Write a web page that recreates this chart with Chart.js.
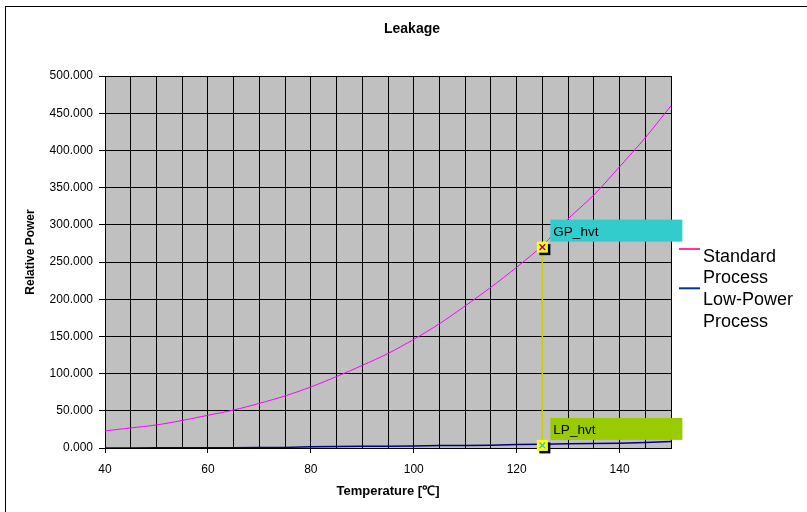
<!DOCTYPE html>
<html lang="en">
<head>
    <meta charset="UTF-8">
    <title>Leakage</title>
    <script src="https://cdn.jsdelivr.net/npm/chart.js@4.4.1/dist/chart.umd.min.js"></script>
    <style>
        body {
            margin: 0;
            padding: 0;
            background: #fff;
            overflow: hidden;
        }

        .frame {
            position: absolute;
            left: 5px;
            top: 6px;
            width: 840px;
            height: 540px;
            border: 1px solid #000;
        }

        .wrap {
            position: absolute;
            left: 0;
            top: 0;
            width: 807px;
            height: 512px;
        }
    </style>
</head>
<body>
    <div class="frame"></div>
    <div class="wrap">
        <canvas id="leakChart" width="807" height="512"></canvas>
    </div>

    <script>
        // temperatures in degrees C
        const temps = [40, 45, 50, 55, 60, 65, 70, 75, 80, 85, 90, 95, 100, 105, 110, 115, 120, 125, 130, 135, 140, 145, 150];
        // relative leakage power
        const standardProcess = [23, 27, 31, 37, 44, 51, 60, 70, 82, 96, 111, 127, 146, 167, 191, 216, 243, 272, 308, 340, 378, 417, 460];
        const lowPowerProcess = [0.1, 0.15, 0.2, 0.3, 0.35, 0.45, 0.6, 0.8, 1.8, 2.0, 2.2, 2.4, 2.6, 3.3, 3.5, 3.8, 4.8, 5.0, 5.8, 6.2, 6.5, 7.5, 8.6];
        const seriesNames = ['Standard Process', 'Low-Power Process'];

        // marked points at 125 C
        const markerTemp = 125;
        const markerValues = [270, 3.5];
        const markerNames = ['GP_hvt', 'LP_hvt'];

        const yTickStep = 50;
        const xTickStep = 5;
        const xLabelStep = 20;

        const lineColors = ['#ff00ff', '#000080'];
        const legendColors = ['#ff3399', '#003399'];
        const boxColors = ['#33cccc', '#99cc00'];
        const crossColors = ['#990099', '#33cccc'];

        const FONT = "'Liberation Sans', Arial, sans-serif";
        Chart.defaults.font.family = FONT;
        Chart.defaults.color = '#000';

        const plotBackground = {
            id: 'plotBackground',
            beforeDraw(chart) {
                const { ctx, chartArea } = chart;
                ctx.save();
                ctx.fillStyle = '#c0c0c0';
                ctx.fillRect(chartArea.left, chartArea.top, chartArea.right - chartArea.left, chartArea.bottom - chartArea.top);
                ctx.restore();
            }
        };

        // black drop shadow under the yellow marker squares
        const markerShadow = {
            id: 'markerShadow',
            beforeDatasetDraw(chart, args) {
                if (chart.data.datasets[args.index].shadow) {
                    const ctx = chart.ctx;
                    ctx.save();
                    ctx.shadowColor = '#000';
                    ctx.shadowOffsetX = 2.5;
                    ctx.shadowOffsetY = 2.5;
                    ctx.shadowBlur = 0;
                }
            },
            afterDatasetDraw(chart, args) {
                if (chart.data.datasets[args.index].shadow) {
                    chart.ctx.restore();
                }
            }
        };

        // titles, data labels and the legend
        const decorations = {
            id: 'decorations',
            afterDraw(chart) {
                const { ctx, chartArea } = chart;
                const xs = chart.scales.x;
                const ys = chart.scales.y;
                ctx.save();
                ctx.fillStyle = '#000';

                ctx.font = 'bold 14px ' + FONT;
                ctx.textAlign = 'center';
                ctx.textBaseline = 'alphabetic';
                ctx.fillText('Leakage', 412, 33);

                ctx.font = 'bold 13px ' + FONT;
                ctx.fillText('Temperature [\u2103]', (chartArea.left + chartArea.right) / 2, 495);

                ctx.save();
                ctx.translate(33.5, 252);
                ctx.rotate(-Math.PI / 2);
                ctx.font = 'bold 12px ' + FONT;
                ctx.fillText('Relative Power', 0, 0);
                ctx.restore();

                // label boxes next to the markers
                markerValues.forEach((v, i) => {
                    const px = xs.getPixelForValue(markerTemp);
                    const py = ys.getPixelForValue(v);
                    const bx = px + 8;
                    const by = py - 27.5;
                    ctx.fillStyle = boxColors[i];
                    ctx.fillRect(bx, by, 132, 22);
                    ctx.fillStyle = '#000';
                    ctx.font = '13.5px ' + FONT;
                    ctx.textAlign = 'left';
                    ctx.fillText(markerNames[i], bx + 3, by + 16.5);
                });

                // legend, wrapped word by word, lines flow on one pitch
                ctx.font = '18px ' + FONT;
                ctx.textAlign = 'left';
                const firstBaseline = 261.7;
                const pitch = 21.7;
                const symbolLift = [12.7, 16.8];
                let row = 0;
                seriesNames.forEach((name, i) => {
                    const base = firstBaseline + row * pitch;
                    const ly = base - symbolLift[i];
                    ctx.strokeStyle = legendColors[i];
                    ctx.lineWidth = 2;
                    ctx.beginPath();
                    ctx.moveTo(679, ly);
                    ctx.lineTo(700, ly);
                    ctx.stroke();
                    name.split(' ').forEach(w => {
                        ctx.fillStyle = '#000';
                        ctx.fillText(w, 703, firstBaseline + row * pitch);
                        row++;
                    });
                });
                ctx.restore();
            }
        };

        const ctx = document.getElementById('leakChart');

        new Chart(ctx, {
            type: 'line',
            data: {
                datasets: [
                    {
                        label: 'crosses',
                        type: 'scatter',
                        data: markerValues.map(v => ({ x: markerTemp, y: v })),
                        pointStyle: 'crossRot',
                        pointRadius: 4,
                        borderWidth: 1.5,
                        pointBorderColor: crossColors,
                        backgroundColor: crossColors,
                        clip: false,
                        order: 1
                    },
                    {
                        label: 'markers',
                        type: 'scatter',
                        data: markerValues.map(v => ({ x: markerTemp, y: v })),
                        pointStyle: 'rect',
                        pointRadius: 7.8,
                        borderWidth: 0,
                        pointBorderWidth: 0,
                        backgroundColor: '#ffff00',
                        shadow: true,
                        clip: false,
                        order: 2
                    },
                    {
                        label: 'drop line',
                        data: markerValues.map(v => ({ x: markerTemp, y: v })),
                        borderColor: '#cccc00',
                        borderWidth: 1,
                        pointRadius: 0,
                        order: 3
                    },
                    {
                        label: seriesNames[0],
                        data: temps.map((t, i) => ({ x: t, y: standardProcess[i] })),
                        borderColor: lineColors[0],
                        borderWidth: 1,
                        pointRadius: 0,
                        tension: 0.3,
                        order: 4
                    },
                    {
                        label: seriesNames[1],
                        data: temps.map((t, i) => ({ x: t, y: lowPowerProcess[i] })),
                        borderColor: lineColors[1],
                        borderWidth: 1.5,
                        pointRadius: 0,
                        tension: 0,
                        order: 5
                    }
                ]
            },
            options: {
                responsive: false,
                animation: false,
                layout: {
                    padding: { left: 0, right: 136, top: 76, bottom: 0 }
                },
                plugins: {
                    legend: { display: false },
                    title: { display: false },
                    tooltip: { enabled: false }
                },
                scales: {
                    x: {
                        type: 'linear',
                        min: 40,
                        max: 150,
                        afterFit(scale) { scale.height = 64; },
                        border: { color: '#000', width: 1 },
                        grid: {
                            color: '#000',
                            tickLength: 5,
                            tickColor: c => (c.tick && c.tick.value % xLabelStep === 0) ? '#000' : 'rgba(0,0,0,0)'
                        },
                        ticks: {
                            stepSize: xTickStep,
                            autoSkip: false,
                            maxRotation: 0,
                            padding: 9,
                            font: { size: 12 },
                            callback: v => (v % xLabelStep === 0 ? String(v) : '')
                        }
                    },
                    y: {
                        min: 0,
                        max: 500,
                        afterFit(scale) { scale.width = 105; },
                        border: { color: '#000', width: 1 },
                        grid: {
                            color: '#000',
                            tickLength: 6,
                            tickColor: '#000'
                        },
                        ticks: {
                            stepSize: yTickStep,
                            padding: 6,
                            font: { size: 12 },
                            callback: v => v.toFixed(3)
                        }
                    }
                }
            },
            plugins: [plotBackground, markerShadow, decorations]
        });
    </script>
</body>
</html>
